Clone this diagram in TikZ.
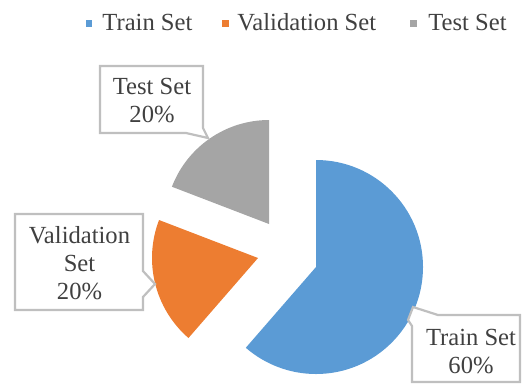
\documentclass[tikz,border=0pt]{standalone}
\usepackage{fontspec}
\setmainfont{Liberation Serif}
\definecolor{trainblue}{HTML}{5B9BD5}
\definecolor{valorange}{HTML}{ED7D31}
\definecolor{testgray}{HTML}{A5A5A5}
\definecolor{txtgray}{HTML}{404040}
\definecolor{framegray}{HTML}{BFBFBF}
\begin{document}
\begin{tikzpicture}[x=0.5pt,y=-0.5pt,
  lbl/.style={font=\fontsize{12.3}{14}\selectfont, text=txtgray, align=center, inner sep=0pt},
  legtext/.style={font=\fontsize{12.3}{14}\selectfont, text=txtgray, anchor=base west, inner sep=0pt},
  legkey/.style={minimum size=3.2pt, inner sep=0pt, draw=none},
  callout/.style={draw=framegray, fill=white, line width=1.1pt, line join=miter}]
\useasboundingbox (0,0) rectangle (522,386);

% legend
\node[legkey, fill=trainblue] (kTrain) at (89,23.5) {};
\node[legtext] (lTrain) at (102,30) {Train Set};
\node[legkey, fill=valorange] (kVal) at (225.5,23.5) {};
\node[legtext] (lVal) at (237,30) {Validation Set};
\node[legkey, fill=testgray] (kTest) at (413.5,23.5) {};
\node[legtext] (lTest) at (428,30) {Test Set};

% exploded pie slices (angles measured with y pointing down)
\fill[trainblue] (316,267) coordinate (cTrain) -- ++(-90:107)
  arc[start angle=-90, end angle=131, radius=107] -- cycle;
\fill[valorange] (258,258) coordinate (cVal) -- ++(131:106)
  arc[start angle=131, end angle=201, radius=106] -- cycle;
\fill[testgray] (269,224) coordinate (cTest) -- ++(201:104)
  arc[start angle=201, end angle=270, radius=104] -- cycle;

% data label callouts
\draw[callout] (100,66) -- (203,66) -- (203,128) -- (208,138) -- (186,133) -- (100,133) -- cycle;
\draw[callout] (15,214) -- (143,214) -- (143,271) -- (155,284) -- (143,297) -- (143,310) -- (15,310) -- cycle;
\draw[callout] (520,315) -- (520,382) -- (412,382) -- (412,326) -- (408,320) -- (413,307) -- (438,315) -- cycle;

\node[lbl] (tTest) at (152,100.5) {Test Set\\20\%};
\node[lbl] (tVal) at (79.5,263.5) {Validation\\Set\\20\%};
\node[lbl] (tTrain) at (471,352) {Train Set\\60\%};
\end{tikzpicture}
\end{document}
